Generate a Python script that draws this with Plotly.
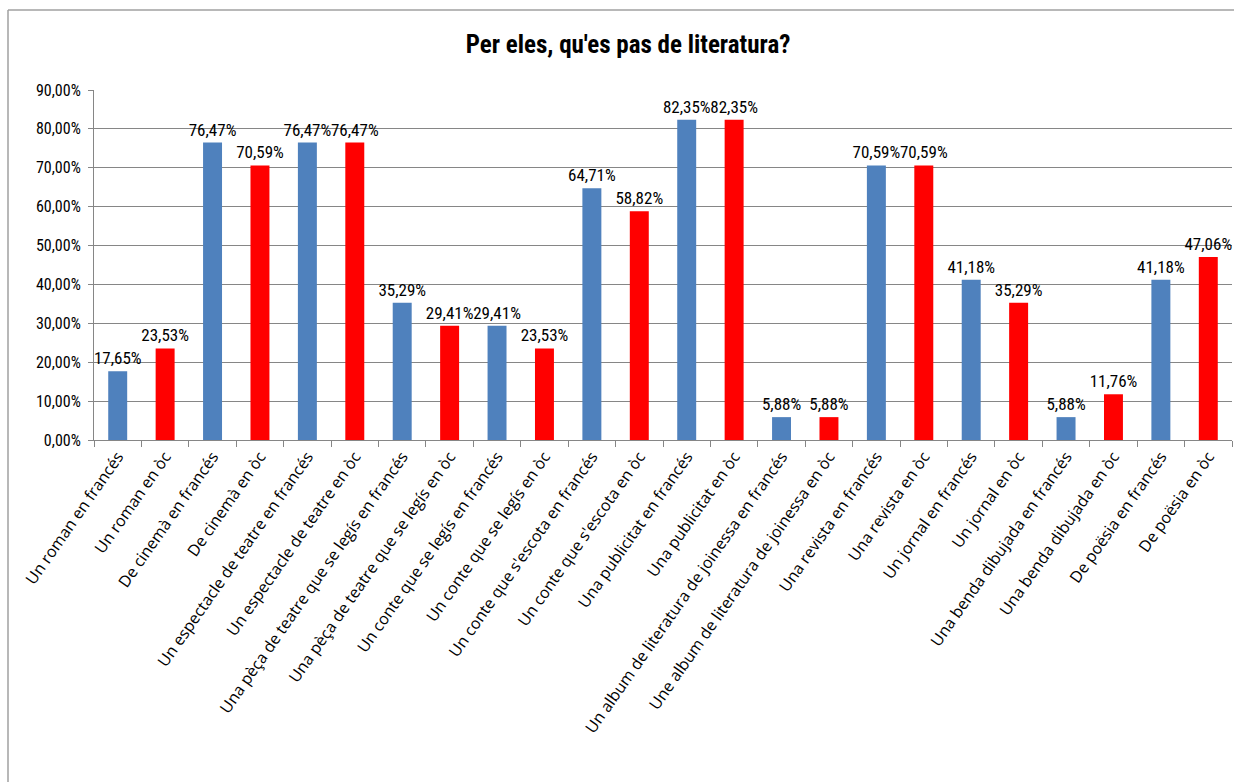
import plotly.graph_objects as go

categories = [
    "Un roman en francés", "Un roman en òc",
    "De cinemà en francés", "De cinemà en òc",
    "Un espectacle de teatre en francés", "Un espectacle de teatre en òc",
    "Una pèça de teatre que se legís en francés", "Una pèça de teatre que se legís en òc",
    "Un conte que se legís en francés", "Un conte que se legís en òc",
    "Un conte que s'escota en francés", "Un conte que s'escota en òc",
    "Una publicitat en francés", "Una publicitat en òc",
    "Un album de literatura de joinessa en francés", "Une album de literatura de joinessa en òc",
    "Una revista en francés", "Una revista en òc",
    "Un jornal en francés", "Un jornal en òc",
    "Una benda dibujada en francés", "Una benda dibujada en òc",
    "De poësia en francés", "De poësia en òc",
]
values = [
    0.1765, 0.2353, 0.7647, 0.7059, 0.7647, 0.7647, 0.3529, 0.2941,
    0.2941, 0.2353, 0.6471, 0.5882, 0.8235, 0.8235, 0.0588, 0.0588,
    0.7059, 0.7059, 0.4118, 0.3529, 0.0588, 0.1176, 0.4118, 0.4706,
]
language = ["francés", "òc"] * 12
lang_colors = {"francés": "#4F81BD", "òc": "#FF0000"}

NARROW = "Liberation Sans Narrow, Roboto Condensed, Roboto, sans-serif"

fig = go.Figure(go.Bar(
    x=categories,
    y=values,
    marker=dict(color=[lang_colors[l] for l in language], line=dict(width=0)),
    texttemplate="%{y:.2%}",
    textposition="outside",
    constraintext="none",
    textfont=dict(family=NARROW, size=17, color="#000000"),
    cliponaxis=False,
    showlegend=False,
))

# plot area in pixels: x 94..1232, y 90..440
def px_x(p):
    return (p - 94) / (1232 - 94)

def px_y(p):
    return (440 - p) / (440 - 90)

fig.update_layout(
    width=1234, height=782,
    margin=dict(l=94, r=2, t=90, b=342),
    paper_bgcolor="white", plot_bgcolor="white",
    separators=",.",
    bargap=0.6,
    title=dict(
        text="<b>Per eles, qu'es pas de literatura?</b>",
        x=628 / 1234, xanchor="center", y=1 - 44 / 782, yanchor="middle",
        font=dict(family=NARROW, size=25, color="#000000"),
    ),
    xaxis=dict(
        type="category",
        tickangle=-55,
        tickfont=dict(family="Open Sans, sans-serif", size=16, color="#000000"),
        ticks="outside", tickson="boundaries", ticklen=6, tickcolor="#868686",
        showline=True, linecolor="#868686", linewidth=1,
        showgrid=False,
    ),
    yaxis=dict(
        range=[0, 0.9],
        dtick=0.1,
        tickformat=".2%",
        tickfont=dict(family=NARROW, size=16, color="#000000"),
        ticks="outside", ticklen=5, tickcolor="#868686",
        ticklabelstandoff=4,
        showline=True, linecolor="#868686", linewidth=1,
        showgrid=True, gridcolor="#868686", gridwidth=1,
        zeroline=False,
    ),
    shapes=[
        dict(type="line", xref="paper", yref="paper",
             x0=px_x(8), x1=px_x(1240), y0=px_y(10), y1=px_y(10),
             line=dict(color="#A0A0A0", width=1.5)),
        dict(type="line", xref="paper", yref="paper",
             x0=px_x(8), x1=px_x(8), y0=px_y(10), y1=px_y(790),
             line=dict(color="#A0A0A0", width=1.5)),
    ],
)

fig.write_html(
    "out.html",
    config={"displayModeBar": False},
    post_script="document.body.style.margin='0';document.body.style.overflow='hidden';",
)
